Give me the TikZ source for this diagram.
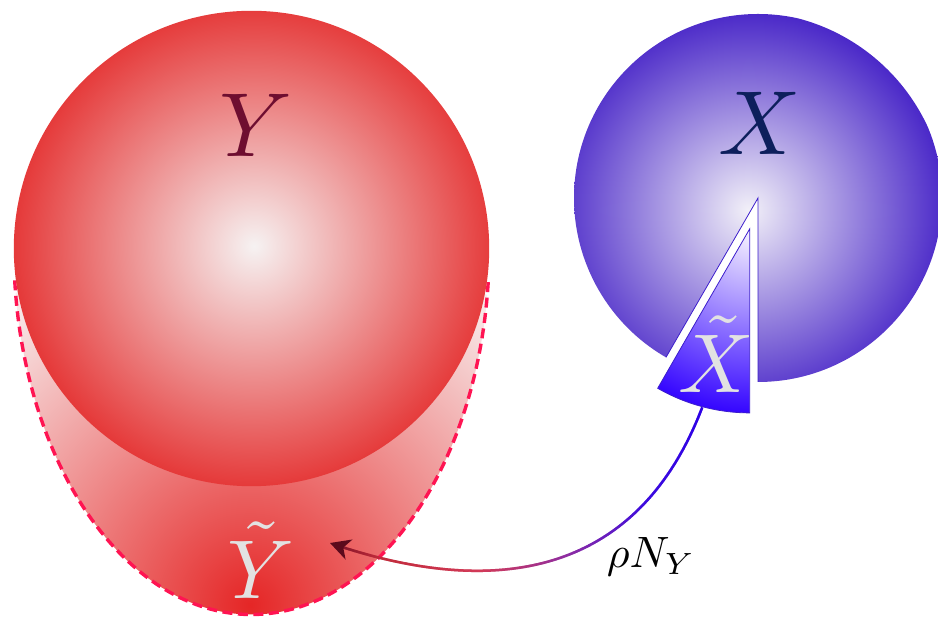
\documentclass[tikz,border=0pt]{standalone}
\usetikzlibrary{arrows.meta,decorations.markings,calc}
\definecolor{redEdge}{HTML}{E53838}
\definecolor{redCore}{HTML}{F6F2F2}
\definecolor{ytCore}{HTML}{E52626}
\definecolor{ytEdge}{HTML}{F8EFEF}
\definecolor{ytDash}{HTML}{FF1452}
\definecolor{blueEdge}{HTML}{4A28C8}
\definecolor{blueCore}{HTML}{F2F0F8}
\definecolor{blueLine}{HTML}{3C1ECC}
\definecolor{pcCore}{HTML}{F6F2FF}
\definecolor{pcEdge}{HTML}{3000FF}
\definecolor{yLab}{HTML}{6E0E30}
\definecolor{xLab}{HTML}{0D1F5C}
\definecolor{tLab}{HTML}{E2E2E2}
\definecolor{gA}{HTML}{2C00E6}
\definecolor{gB}{HTML}{3C0ADE}
\definecolor{gC}{HTML}{8C2CA4}
\definecolor{gD}{HTML}{D23A58}
\definecolor{gE}{HTML}{C02A3A}
\definecolor{gF}{HTML}{6A0C22}
\definecolor{tipCol}{HTML}{5C0A1C}
\newcommand\myMixIt[4]{%
  \pgfmathsetmacro\mypp{max(0,min(100,100*(#4-\myfr)/(#4-#3)))}%
  \colorlet{segc}{#1!\mypp!#2}}
\newcommand\myGradSel{%
  \ifdim\myfr pt<25pt \myMixIt{gA}{gB}{0}{25}\else
  \ifdim\myfr pt<45pt \myMixIt{gB}{gC}{25}{45}\else
  \ifdim\myfr pt<65pt \myMixIt{gC}{gD}{45}{65}\else
  \ifdim\myfr pt<88pt \myMixIt{gD}{gE}{65}{88}\else
  \myMixIt{gE}{gF}{88}{100}\fi\fi\fi\fi}
\tikzset{
  lab/.style={inner sep=0pt, anchor=base},
  dashrim/.style={ytDash, line width=3.4pt, dash pattern=on 10pt off 5.5pt},
  rimline/.style={blueLine, line width=0.8pt},
  gradarrow/.style={decorate, decoration={markings,
     mark=between positions 0 and 0.975 step 1pt with {%
        \pgfmathsetmacro\myfr{(\pgfkeysvalueof{/pgf/decoration/mark info/distance from start})/(\pgfdecoratedpathlength)*100}%
        \myGradSel
        \draw[segc, line width=2.5pt] (-0.75pt,0) -- (0.75pt,0);}}},
  tiparrow/.style={tipCol, line width=2.5pt, -{Stealth[length=20pt,width=21pt,inset=6pt]}},
}
\begin{document}
\begin{tikzpicture}[x=1pt,y=1pt]
\useasboundingbox (0,0) rectangle (938,617);
% Y-tilde region
\coordinate (rc) at (251.5,368.5);
\begin{scope}
  \clip (13.8,368.5) arc[start angle=180,end angle=360,x radius=237.7,y radius=366] -- cycle;
  \shade[inner color=ytCore, outer color=ytEdge] (250,12) circle (390);
\end{scope}
\draw[dashrim] (rc) ++(185:237.7 and 366) arc[start angle=185,end angle=355,x radius=237.7,y radius=366];
% Y ball
\begin{scope}
  \clip (rc) circle (237.7);
  \shade[inner color=redCore, outer color=redEdge] (254,371) circle (242);
\end{scope}
% X ball with wedge removed
\coordinate (bc) at (758,419);
\begin{scope}
  \clip (bc) -- ++(270:184) arc[start angle=270,end angle=600,radius=184] -- cycle;
  \shade[inner color=blueCore, outer color=blueEdge] (748,407) circle (198);
\end{scope}
\draw[rimline] ($(bc)+(270:184)$) -- (bc) -- ++(240:184);
% X-tilde piece
\coordinate (pc) at (749.7,388.1);
\begin{scope}
  \clip (pc) -- ++(240:184) arc[start angle=240,end angle=270,radius=184] -- cycle;
  \shade[inner color=pcCore, outer color=pcEdge] (750,385) circle (185);
\end{scope}
\draw[rimline] (pc) -- ++(240:184) arc[start angle=240,end angle=270,radius=184] -- cycle;
% labels
\node[lab, text=yLab, scale=9.1] (Ylab) at (256,460) {$Y$};
\node[lab, text=xLab, scale=9.1] (Xlab) at (760,462) {$X$};
\node[lab, text=tLab, scale=8.35] (Ytl) at (261,18) {$\tilde{Y}$};
\node[lab, text=tLab, scale=8.35] (Xtl) at (716,224) {$\tilde{X}$};
\node[inner sep=0pt, anchor=base west, scale=4.39] (rho) at (606,49) {$\rho N_Y$};
% arrow
\coordinate (arrS) at (702,209);
\coordinate (arrE) at (330,74);
\coordinate (arrB) at ($(arrE)+(-19:14)$);
\path[gradarrow] (arrS) to[out=-111,in=-19,looseness=1.15] (arrE);
\draw[tiparrow] (arrB) -- (arrE);
\end{tikzpicture}
\end{document}
